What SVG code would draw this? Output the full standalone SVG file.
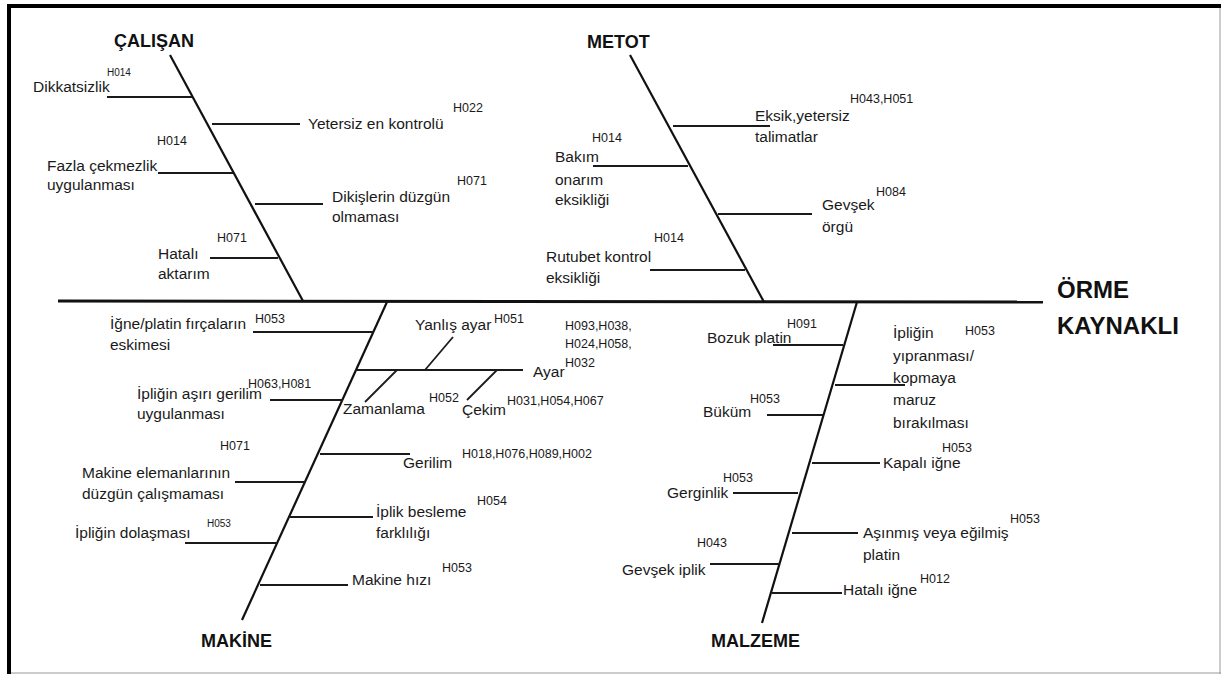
<svg xmlns="http://www.w3.org/2000/svg" width="1221" height="675" viewBox="0 0 1221 675">
<style>
.t{font-family:"Liberation Sans",Arial,sans-serif;font-size:15.5px;fill:#1a1a1a}
.s{font-family:"Liberation Sans",Arial,sans-serif;font-size:12.5px;fill:#1a1a1a}
.h{font-family:"Liberation Sans",Arial,sans-serif;font-size:18px;font-weight:bold;fill:#111}
.hd{font-family:"Liberation Sans",Arial,sans-serif;font-size:24px;font-weight:bold;fill:#111}
.b{stroke:#111;stroke-width:2.2;fill:none}
.r{stroke:#1a1a1a;stroke-width:1.8;fill:none}
</style>
<rect x="0" y="0" width="1221" height="675" fill="#fff"/>
<g id="frame">
<rect x="7" y="4" width="1214" height="4" fill="#000"/>
<rect x="7" y="4" width="4" height="670" fill="#000"/>
<line x1="1220" y1="8" x2="1220" y2="674" stroke="#999" stroke-width="1"/>
<line x1="11" y1="673" x2="1221" y2="673" stroke="#999" stroke-width="1"/>
</g>
<g id="connectors">
<line x1="58" y1="301" x2="1043" y2="302" stroke="#111" stroke-width="3"/>
<line class="b" x1="170" y1="55" x2="303" y2="301"/>
<line class="b" x1="630" y1="55" x2="764" y2="302"/>
<line class="b" x1="387" y1="302" x2="242" y2="620"/>
<line class="b" x1="857" y1="302" x2="762" y2="623"/>
<line class="r" x1="107" y1="97" x2="192" y2="97"/>
<line class="r" x1="212" y1="124" x2="300" y2="124"/>
<line class="r" x1="158" y1="173" x2="233" y2="173"/>
<line class="r" x1="255" y1="204" x2="323" y2="204"/>
<line class="r" x1="210" y1="258" x2="278" y2="258"/>
<line class="r" x1="673" y1="126" x2="770" y2="126"/>
<line class="r" x1="593" y1="166" x2="688" y2="166"/>
<line class="r" x1="718" y1="214" x2="812" y2="214"/>
<line class="r" x1="650" y1="270" x2="745" y2="270"/>
<line class="r" x1="253" y1="332" x2="374" y2="332"/>
<line class="r" x1="357" y1="370" x2="523" y2="370"/>
<line class="r" x1="425" y1="370" x2="453" y2="337"/>
<line class="r" x1="397" y1="370" x2="365" y2="402"/>
<line class="r" x1="497" y1="370" x2="467" y2="400"/>
<line class="r" x1="270" y1="400" x2="343" y2="400"/>
<line class="r" x1="320" y1="454" x2="410" y2="454"/>
<line class="r" x1="235" y1="482" x2="305" y2="482"/>
<line class="r" x1="290" y1="517" x2="373" y2="517"/>
<line class="r" x1="185" y1="543" x2="277" y2="543"/>
<line class="r" x1="260" y1="585" x2="348" y2="585"/>
<line class="r" x1="773" y1="345" x2="843" y2="345"/>
<line class="r" x1="835" y1="385" x2="905" y2="385"/>
<line class="r" x1="767" y1="415" x2="823" y2="415"/>
<line class="r" x1="812" y1="463" x2="880" y2="463"/>
<line class="r" x1="733" y1="493" x2="798" y2="493"/>
<line class="r" x1="792" y1="533" x2="858" y2="533"/>
<line class="r" x1="710" y1="564" x2="780" y2="564"/>
<line class="r" x1="772" y1="593" x2="842" y2="593"/>
</g>
<g id="head"><text class="hd" x="1057" y="298">ÖRME</text><text class="hd" x="1057" y="334">KAYNAKLI</text></g>
<g id="calisan"><text class="h" x="114" y="47">ÇALIŞAN</text></g>
<g id="metot"><text class="h" x="587" y="48">METOT</text></g>
<g id="makine"><text class="h" x="201" y="647">MAKİNE</text></g>
<g id="malzeme"><text class="h" x="711" y="647">MALZEME</text></g>
<g id="c1"><text class="t" x="33" y="92">Dikkatsizlik</text><text class="s" x="107" y="76" style="font-size:10px">H014</text></g>
<g id="c2"><text class="t" x="308" y="129">Yetersiz en kontrolü</text><text class="s" x="453" y="112">H022</text></g>
<g id="c3"><text class="t" x="47" y="171">Fazla çekmezlik</text><text class="t" x="47" y="190">uygulanması</text><text class="s" x="157" y="145">H014</text></g>
<g id="c4"><text class="t" x="332" y="202">Dikişlerin düzgün</text><text class="t" x="332" y="222">olmaması</text><text class="s" x="457" y="185">H071</text></g>
<g id="c5"><text class="t" x="158" y="259">Hatalı</text><text class="t" x="158" y="279">aktarım</text><text class="s" x="217" y="242">H071</text></g>
<g id="m1"><text class="t" x="755" y="121">Eksik,yetersiz</text><text class="t" x="755" y="142">talimatlar</text><text class="s" x="850" y="103">H043,H051</text></g>
<g id="m2"><text class="t" x="555" y="162">Bakım</text><text class="t" x="555" y="185">onarım</text><text class="t" x="555" y="205">eksikliği</text><text class="s" x="592" y="142">H014</text></g>
<g id="m3"><text class="t" x="822" y="210">Gevşek</text><text class="t" x="822" y="232">örgü</text><text class="s" x="876" y="196">H084</text></g>
<g id="m4"><text class="t" x="546" y="262">Rutubet kontrol</text><text class="t" x="546" y="283">eksikliği</text><text class="s" x="654" y="242">H014</text></g>
<g id="k1"><text class="t" x="110" y="329">İğne/platin fırçaların</text><text class="t" x="110" y="350">eskimesi</text><text class="s" x="255" y="323">H053</text></g>
<g id="k2"><text class="t" x="533" y="377">Ayar</text><text class="s" x="565" y="330">H093,H038,</text><text class="s" x="565" y="348">H024,H058,</text><text class="s" x="565" y="367">H032</text></g>
<g id="k2a"><text class="t" x="415" y="330">Yanlış ayar</text><text class="s" x="494" y="323">H051</text></g>
<g id="k2b"><text class="t" x="343" y="414">Zamanlama</text><text class="s" x="429" y="402">H052</text></g>
<g id="k2c"><text class="t" x="462" y="415">Çekim</text><text class="s" x="507" y="405">H031,H054,H067</text></g>
<g id="k3"><text class="t" x="137" y="399">İpliğin aşırı gerilim</text><text class="t" x="137" y="419">uygulanması</text><text class="s" x="248" y="388">H063,H081</text></g>
<g id="k4"><text class="t" x="403" y="468">Gerilim</text><text class="s" x="462" y="458">H018,H076,H089,H002</text></g>
<g id="k5"><text class="t" x="82" y="478">Makine elemanlarının</text><text class="t" x="82" y="499">düzgün çalışmaması</text><text class="s" x="220" y="450">H071</text></g>
<g id="k6"><text class="t" x="376" y="517">İplik besleme</text><text class="t" x="376" y="538">farklılığı</text><text class="s" x="477" y="505">H054</text></g>
<g id="k7"><text class="t" x="75" y="538">İpliğin dolaşması</text><text class="s" x="207" y="527" style="font-size:10px">H053</text></g>
<g id="k8"><text class="t" x="352" y="585">Makine hızı</text><text class="s" x="442" y="572">H053</text></g>
<g id="z1"><text class="t" x="707" y="343">Bozuk platin</text><text class="s" x="787" y="328">H091</text></g>
<g id="z2"><text class="t" x="893" y="338">İpliğin</text><text class="t" x="893" y="361">yıpranması/</text><text class="t" x="893" y="383">kopmaya</text><text class="t" x="893" y="405">maruz</text><text class="t" x="893" y="428">bırakılması</text><text class="s" x="965" y="335">H053</text></g>
<g id="z3"><text class="t" x="703" y="417">Büküm</text><text class="s" x="750" y="403">H053</text></g>
<g id="z4"><text class="t" x="883" y="468">Kapalı iğne</text><text class="s" x="942" y="452">H053</text></g>
<g id="z5"><text class="t" x="667" y="498">Gerginlik</text><text class="s" x="723" y="482">H053</text></g>
<g id="z6"><text class="t" x="863" y="538">Aşınmış veya eğilmiş</text><text class="t" x="863" y="560">platin</text><text class="s" x="1010" y="523">H053</text></g>
<g id="z7"><text class="t" x="622" y="575">Gevşek iplik</text><text class="s" x="697" y="547">H043</text></g>
<g id="z8"><text class="t" x="843" y="595">Hatalı iğne</text><text class="s" x="920" y="583">H012</text></g>
</svg>
